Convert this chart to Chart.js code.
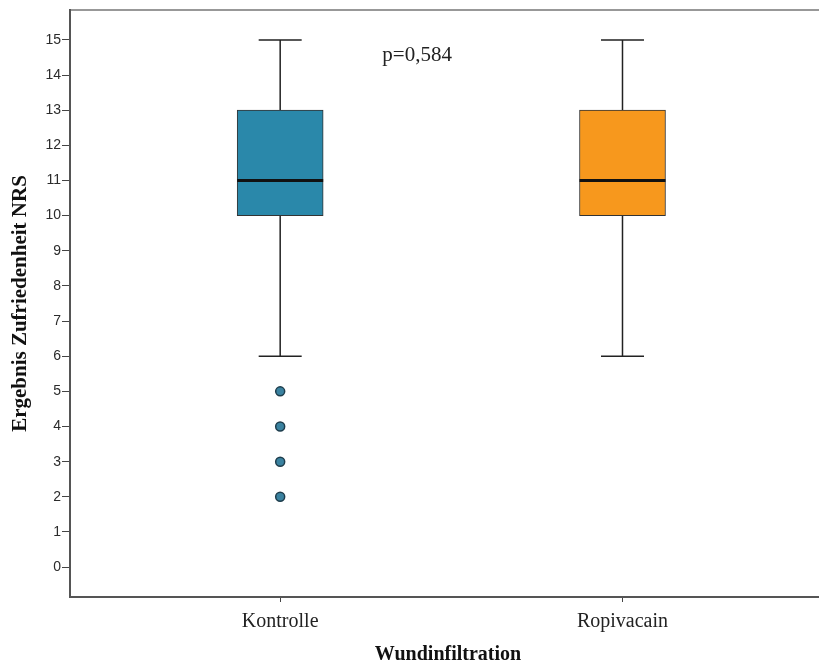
<!DOCTYPE html>
<html lang="en">
<head>
    <meta charset="UTF-8">
    <title>Wundinfiltration - Zufriedenheit NRS</title>
    <script src="https://cdn.jsdelivr.net/npm/chart.js"></script>
    <style>
        body {
            margin: 0;
            background: #fff;
            overflow: hidden;
        }

        /* plot runs a little past the right edge of the window, like the original */
        .chart-box {
            width: 832px;
            height: 664px;
        }
    </style>
</head>
<body>
    <div class="chart-box">
        <canvas id="boxChart"></canvas>
    </div>

    <script>
        // Data
        const categories = ['Kontrolle', 'Ropivacain'];
        const xPositions = [1, 2];
        const whiskerLow = [6, 6];
        const quartile1 = [10, 10];
        const medians = [11, 11];
        const quartile3 = [13, 13];
        const whiskerHigh = [15, 15];
        const outliersKontrolle = [5, 4, 3, 2];
        const yTicks = [0, 1, 2, 3, 4, 5, 6, 7, 8, 9, 10, 11, 12, 13, 14, 15];
        const pLabel = 'p=0,584';

        const boxColors = ['#2a88aa', '#f7981d'];
        const boxWidth = 86;

        // whiskers behind the boxes, medians on top
        const boxParts = {
            id: 'boxParts',
            beforeDatasetsDraw(chart) {
                const { ctx, scales: { x, y } } = chart;
                ctx.save();
                ctx.strokeStyle = '#222';
                ctx.lineWidth = 1.5;
                xPositions.forEach((pos, i) => {
                    const cx = x.getPixelForValue(pos);
                    const cap = boxWidth / 4;
                    ctx.beginPath();
                    ctx.moveTo(cx, y.getPixelForValue(whiskerLow[i]));
                    ctx.lineTo(cx, y.getPixelForValue(quartile1[i]));
                    ctx.moveTo(cx, y.getPixelForValue(quartile3[i]));
                    ctx.lineTo(cx, y.getPixelForValue(whiskerHigh[i]));
                    ctx.moveTo(cx - cap, y.getPixelForValue(whiskerLow[i]));
                    ctx.lineTo(cx + cap, y.getPixelForValue(whiskerLow[i]));
                    ctx.moveTo(cx - cap, y.getPixelForValue(whiskerHigh[i]));
                    ctx.lineTo(cx + cap, y.getPixelForValue(whiskerHigh[i]));
                    ctx.stroke();
                });
                ctx.restore();
            },
            afterDatasetsDraw(chart) {
                const { ctx, scales: { x, y } } = chart;
                ctx.save();
                ctx.strokeStyle = '#111';
                ctx.lineWidth = 3;
                xPositions.forEach((pos, i) => {
                    const cx = x.getPixelForValue(pos);
                    const my = y.getPixelForValue(medians[i]);
                    ctx.beginPath();
                    ctx.moveTo(cx - boxWidth / 2, my);
                    ctx.lineTo(cx + boxWidth / 2, my);
                    ctx.stroke();
                });

                // p value note
                ctx.fillStyle = '#222';
                ctx.font = '21px "Liberation Serif"';
                ctx.textAlign = 'center';
                ctx.textBaseline = 'middle';
                ctx.fillText(pLabel, x.getPixelForValue(1.4), y.getPixelForValue(14.57));
                ctx.restore();
            }
        };

        // thin frame around the plot area
        const frame = {
            id: 'frame',
            beforeDraw(chart) {
                const { ctx, chartArea: a } = chart;
                ctx.save();
                ctx.strokeStyle = '#777';
                ctx.lineWidth = 1.5;
                ctx.strokeRect(a.left, a.top, a.right - a.left, a.bottom - a.top);
                ctx.restore();
            }
        };

        const boxData = xPositions.map((pos, i) => ({ x: pos, y: [quartile1[i], quartile3[i]] }));
        const outlierData = outliersKontrolle.map(v => ({ x: xPositions[0], y: v }));

        new Chart(document.getElementById('boxChart'), {
            type: 'bar',
            data: {
                datasets: [{
                    type: 'bar',
                    data: boxData,
                    backgroundColor: boxColors,
                    borderColor: '#333',
                    borderWidth: 1,
                    borderSkipped: false,
                    barThickness: boxWidth
                }, {
                    type: 'scatter',
                    data: outlierData,
                    pointRadius: 4.5,
                    pointBackgroundColor: '#3a82a0',
                    pointBorderColor: '#1e3d4c',
                    pointBorderWidth: 1.5
                }]
            },
            options: {
                responsive: true,
                maintainAspectRatio: false,
                animation: false,
                layout: { padding: { top: 10, left: 0, right: 0, bottom: 0 } },
                plugins: {
                    legend: { display: false },
                    tooltip: { enabled: false }
                },
                scales: {
                    x: {
                        type: 'linear',
                        min: 0.386,
                        max: 2.5945,
                        offset: false,
                        afterBuildTicks: s => { s.ticks = xPositions.map(v => ({ value: v })); },
                        afterFit: s => { s.height = 67; },
                        ticks: {
                            callback: v => categories[xPositions.indexOf(v)],
                            font: { family: 'Liberation Serif', size: 20 },
                            color: '#222',
                            padding: 8,
                            maxRotation: 0
                        },
                        grid: { offset: false, drawOnChartArea: false, tickLength: 5, tickColor: '#444' },
                        border: { display: true, color: '#555', width: 2 },
                        title: {
                            display: true,
                            text: 'Wundinfiltration',
                            font: { family: 'Liberation Serif', size: 20, weight: 'bold' },
                            color: '#111',
                            padding: { top: 0, bottom: -3 }
                        }
                    },
                    y: {
                        min: -0.85,
                        max: 15.85,
                        afterBuildTicks: s => { s.ticks = yTicks.map(v => ({ value: v })); },
                        afterFit: s => { s.width = 70; },
                        ticks: {
                            font: { family: 'Liberation Sans', size: 14 },
                            color: '#2b2b2b',
                            padding: 1
                        },
                        grid: { drawOnChartArea: false, tickLength: 8, tickColor: '#444' },
                        border: { display: true, color: '#555', width: 2 },
                        title: {
                            display: true,
                            text: 'Ergebnis Zufriedenheit NRS',
                            font: { family: 'Liberation Serif', size: 21, weight: 'bold' },
                            color: '#111',
                            padding: { top: 8, bottom: 0 }
                        }
                    }
                }
            },
            plugins: [frame, boxParts]
        });
    </script>
</body>
</html>
